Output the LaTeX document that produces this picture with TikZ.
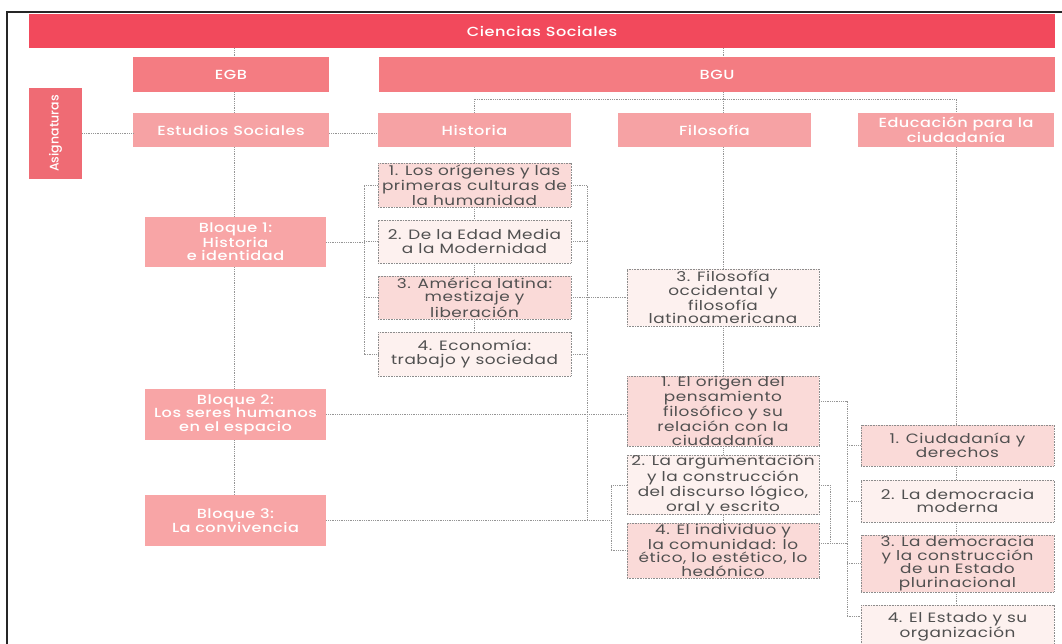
\documentclass[tikz,border=0pt]{standalone}
\usepackage{fontspec}
\usepackage{graphicx}
\setmainfont{Poppins}[FakeStretch=1.25,LetterSpace=4]
\newfontfamily\medfont{Poppins Medium}[FakeStretch=1.22,LetterSpace=4]
\newfontfamily\asigfont{Poppins Medium}
\usetikzlibrary{calc}
\definecolor{ctitle}{HTML}{F2495C}
\definecolor{clevone}{HTML}{F47C82}
\definecolor{casig}{HTML}{EF6B74}
\definecolor{clevtwo}{HTML}{F6A2A4}
\definecolor{cbloque}{HTML}{F8A5A6}
\definecolor{cpink}{HTML}{FADAD8}
\definecolor{clight}{HTML}{FDF1EF}
\definecolor{ctext}{HTML}{505050}
\definecolor{cborder}{HTML}{8C8C8C}
\definecolor{cline}{HTML}{959595}
\tikzset{
  hd/.style={draw=none, inner sep=0pt, align=center, text=white,
    font={\medfont\fontsize{13.2}{13.6}\selectfont}},
  cbox/.style={draw=cborder, line width=0.7pt, dash pattern=on 0.8pt off 0.8pt,
    inner sep=0pt, align=center, text=ctext,
    font={\fontsize{13.5}{13.5}\selectfont}},
  conn/.style={draw=cline, line width=0.8pt, dash pattern=on 0.9pt off 0.9pt},
}
\begin{document}
\begin{tikzpicture}[x=1pt,y=-1pt]
\useasboundingbox (0,0) rectangle (1062,644);
\clip (0,0) rectangle (1062,644);
\fill[white] (0,0) rectangle (1062,644);
% frame
\draw[line width=1.5pt, black!85] (7,644) -- (7,12) -- (1062,12);

% headers
\node[hd, fill=ctitle, minimum width=1026pt, minimum height=34pt] (title) at (542,31) {Ciencias Sociales};
\node[hd, fill=clevone, minimum width=196pt, minimum height=35pt] (egb) at (231,74.5) {EGB};
\node[hd, fill=clevone, minimum width=676pt, minimum height=35pt] (bgu) at (717,74.5) {BGU};
\node[hd, fill=casig, minimum width=53pt, minimum height=91pt, font={\asigfont\fontsize{12.5}{13}\selectfont}] (asig) at (55.5,133.5) {\rotatebox{90}{Asignaturas}};
\node[hd, fill=clevtwo, minimum width=196pt, minimum height=34pt] (es) at (231,130) {Estudios Sociales};
\node[hd, fill=clevtwo, minimum width=193pt, minimum height=34pt] (hist) at (474.5,130) {Historia};
\node[hd, fill=clevtwo, minimum width=193pt, minimum height=34pt] (fil) at (714.5,130) {Filosofía};
\node[hd, fill=clevtwo, minimum width=196pt, minimum height=34pt] (edu) at (956,130) {Educación para la\\ciudadanía};

% bloques
\node[hd, fill=cbloque, minimum width=181pt, minimum height=50pt] (b1) at (235.5,242) {Bloque 1:\\Historia\\e identidad};
\node[hd, fill=cbloque, minimum width=181pt, minimum height=51pt] (b2) at (235.5,414.5) {Bloque 2:\\Los seres humanos\\en el espacio};
\node[hd, fill=cbloque, minimum width=181pt, minimum height=51pt] (b3) at (235.5,520.5) {Bloque 3:\\La convivencia};

% historia
\node[cbox, fill=cpink, minimum width=193pt, minimum height=44pt] (h1) at (474.5,185) {1. Los orígenes y las\\primeras culturas de\\la humanidad};
\node[cbox, fill=clight, minimum width=193pt, minimum height=43pt] (h2) at (474.5,241.5) {2. De la Edad Media\\a la Modernidad};
\node[cbox, fill=cpink, minimum width=193pt, minimum height=43pt] (h3) at (474.5,297.5) {3. América latina:\\mestizaje y\\liberación};
\node[cbox, fill=clight, minimum width=193pt, minimum height=44pt] (h4) at (474.5,354) {4. Economía:\\trabajo y sociedad};

% filosofia
\node[cbox, fill=clight, minimum width=192pt, minimum height=57pt] (f3) at (723,297.5) {3. Filosofía\\occidental y\\filosofía\\latinoamericana};
\node[cbox, fill=cpink, minimum width=192pt, minimum height=70pt] (f1) at (723,411) {1. El origen del\\pensamiento\\filosófico y su\\relación con la\\ciudadanía};
\node[cbox, fill=clight, minimum width=192pt, minimum height=56pt] (f2) at (723,485) {2. La argumentación\\y la construcción\\del discurso lógico,\\oral y escrito};
\node[cbox, fill=cpink, minimum width=192pt, minimum height=55pt] (f4) at (723,550.5) {4. El individuo y\\la comunidad: lo\\ético, lo estético, lo\\hedónico};

% educacion
\node[cbox, fill=cpink, minimum width=193pt, minimum height=41pt] (e1) at (957.5,445.5) {1. Ciudadanía y\\derechos};
\node[cbox, fill=clight, minimum width=193pt, minimum height=42pt] (e2) at (957.5,501) {2. La democracia\\moderna};
\node[cbox, fill=cpink, minimum width=193pt, minimum height=57pt] (e3) at (957.5,563.5) {3. La democracia\\y la construcción\\de un Estado\\plurinacional};
\node[cbox, fill=clight, minimum width=193pt, minimum height=44pt] (e4) at (957.5,627) {4. El Estado y su\\organización};

% column coordinates
\coordinate (lc) at (234,0);
\coordinate (bx) at (723,0);
\coordinate (ex) at (956,0);
\coordinate (bus) at (0,99);
\coordinate (hl) at (364,0);
\coordinate (hr) at (587,0);
\coordinate (fl) at (611,0);
\coordinate (fr) at (830,0);
\coordinate (er) at (847,0);

% left column
\draw[conn] (title.south -| lc) -- (egb.north -| lc);
\draw[conn] (egb.south -| lc) -- (es.north -| lc);
\draw[conn] (es.south -| lc) -- (b1.north -| lc);
\draw[conn] (b1.south -| lc) -- (b2.north -| lc);
\draw[conn] (b2.south -| lc) -- (b3.north -| lc);
\draw[conn] (asig.east) -- (asig.east -| es.west);
\draw[conn] (es.east |- asig.east) -- (hist.west |- asig.east);

% BGU
\draw[conn] (title.south -| bx) -- (bgu.north -| bx);
\draw[conn] (bgu.south -| bx) -- (fil.north -| bx);
\draw[conn] (hist.north) -- (hist.north |- bus) -- (bus -| ex) -- (edu.north -| ex);

% historia column
\draw[conn] (hist.south) -- (h1.north);
\draw[conn] (h1.south) -- (h2.north);
\draw[conn] (h2.south) -- (h3.north);
\draw[conn] (h3.south) -- (h4.north);
\draw[conn] (h1.west) -- (h1.west -| hl) -- (h4.west -| hl) -- (h4.west);
\draw[conn] (h2.west -| hl) -- (h2.west);
\draw[conn] (h3.west -| hl) -- (h3.west);
\draw[conn] (b1.east) -- (b1.east -| hl);
\draw[conn] (h1.east) -- (h1.east -| hr) -- (hr |- b3.east);
\draw[conn] (h2.east) -- (h2.east -| hr);
\draw[conn] (h4.east) -- (h4.east -| hr);
\draw[conn] (h3.east) -- (f3.west);
\draw[conn] (b2.east) -- (b2.east -| f1.west);
\draw[conn] (b3.east) -- (b3.east -| fl);

% filosofia column
\draw[conn] (fil.south -| bx) -- (f3.north);
\draw[conn] (f3.south) -- (f1.north);
\draw[conn] (f1.south) -- (f2.north);
\draw[conn] (f2.south) -- (f4.north);
\draw[conn] (f2.west) -- (f2.west -| fl) -- (f4.west -| fl) -- (f4.west);
\coordinate (jf) at ($(f4.east)+(0,-7.5)$);
\coordinate (jo) at ($(f1.east)+(0,-10)$);
\coordinate (jz) at ($(e4.north west)+(0,12)$);
\draw[conn] (f2.east) -- (f2.east -| fr) -- (fr |- jf);
\draw[conn] (jf) -- (jf -| er);
\draw[conn] (jo) -- (jo -| er) -- (er |- jz) -- (jz);
\draw[conn] (er |- e1.west) -- (e1.west);
\draw[conn] (er |- e2.west) -- (e2.west);
\draw[conn] (er |- e3.west) -- (e3.west);

% educacion column
\draw[conn] (edu.south -| ex) -- (e1.north -| ex);
\draw[conn] (e1.south -| ex) -- (e2.north -| ex);
\draw[conn] (e2.south -| ex) -- (e3.north -| ex);
\draw[conn] (e3.south -| ex) -- (e4.north -| ex);
\end{tikzpicture}
\end{document}
